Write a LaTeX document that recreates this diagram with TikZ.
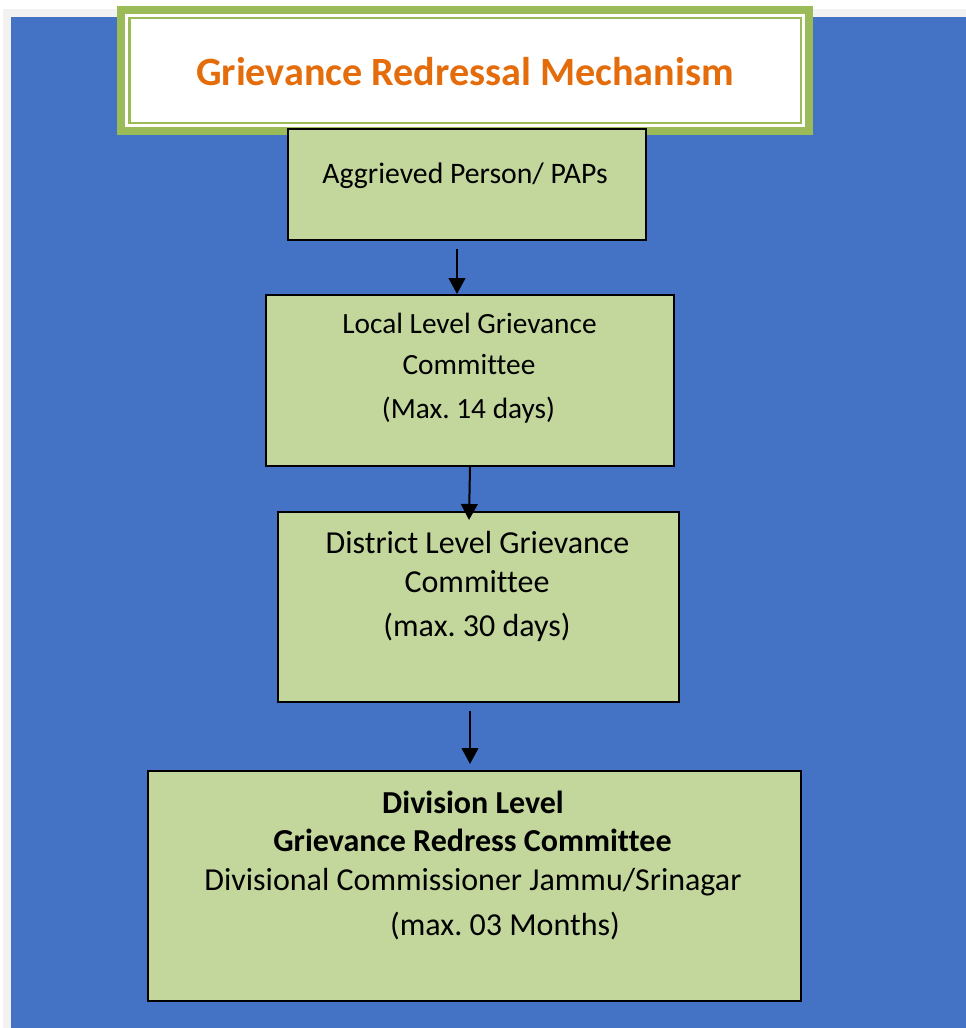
\documentclass[tikz,border=0pt]{standalone}
\usepackage{fontspec}
\setmainfont{Carlito}[Ligatures=NoCommon]
\frenchspacing
\usetikzlibrary{arrows.meta}
\definecolor{bgblue}{HTML}{4472C4}
\definecolor{boxgreen}{HTML}{C3D69B}
\definecolor{titlegreen}{HTML}{9BBB59}
\definecolor{titleorange}{HTML}{E46C0A}
\definecolor{framegray}{HTML}{F2F2F2}
\tikzset{
  stepbox/.style={draw=black, fill=boxgreen, line width=1.5pt, rectangle, inner sep=0pt, anchor=north west},
  txt/.style={inner sep=0pt, anchor=base, font=\fontsize{22}{26}\selectfont},
  bigtxt/.style={inner sep=0pt, anchor=base, font=\fontsize{24}{28}\selectfont},
  arr/.style={draw=black, line width=1.5pt, -{Triangle[width=12.5pt,length=12pt]}}
}
\begin{document}
\begin{tikzpicture}[x=0.75pt,y=-0.75pt]
\useasboundingbox (0,0) rectangle (966,1028);
\fill[white] (0,0) rectangle (966,1028);
\fill[framegray] (3,9) rectangle (966,1028);
\fill[bgblue] (11,17) rectangle (966,1028);
% title box
\fill[titlegreen] (117,6) rectangle (813,135);
\fill[white] (125,14) rectangle (805,127);
\draw[titlegreen, line width=1.9pt] (129.5,18) rectangle (801,123);
\node[inner sep=0pt, anchor=base, text=titleorange, font=\fontsize{30.1}{34}\selectfont\bfseries] (title) at (465,85) {Grievance Redressal Mechanism};
% boxes
\node[stepbox, minimum width=358*0.75pt, minimum height=111*0.75pt] (b1) at (287,128) {};
\node[stepbox, minimum width=408*0.75pt, minimum height=171*0.75pt] (b2) at (265,294) {};
\node[stepbox, minimum width=401*0.75pt, minimum height=190*0.75pt] (b3) at (277,511) {};
\node[stepbox, minimum width=653*0.75pt, minimum height=230*0.75pt] (b4) at (147,770) {};
% texts
\node[txt, font=\fontsize{22.3}{26}\selectfont] (t1) at (465,183) {Aggrieved Person/ PAPs};
\node[txt] (t2a) at (469.5,333) {Local Level Grievance};
\node[txt] (t2b) at (469,374) {Committee};
\node[txt] (t2c) at (468.5,418) {(Max. 14 days)};
\node[bigtxt] (t3a) at (477.5,553) {District Level Grievance};
\node[bigtxt] (t3b) at (477,592) {Committee};
\node[bigtxt] (t3c) at (477,636) {(max. 30 days)};
\node[bigtxt, font=\fontsize{24}{28}\selectfont\bfseries] (t4a) at (473,813) {Division Level};
\node[bigtxt, font=\fontsize{24}{28}\selectfont\bfseries] (t4b) at (472.5,851) {Grievance Redress Committee};
\node[bigtxt] (t4c) at (473,890) {Divisional Commissioner Jammu/Srinagar};
\node[bigtxt] (t4d) at (505,935) {(max. 03 Months)};
% connectors
\coordinate (a1s) at (457,249);
\coordinate (a2e) at (469,520);
\coordinate (a3s) at (470,711);
\coordinate (a3e) at (470,764);
\draw[arr] (a1s) -- (a1s |- b2.north);
\draw[arr] (b2.south) -- (a2e);
\draw[arr] (a3s) -- (a3e);
\end{tikzpicture}
\end{document}
